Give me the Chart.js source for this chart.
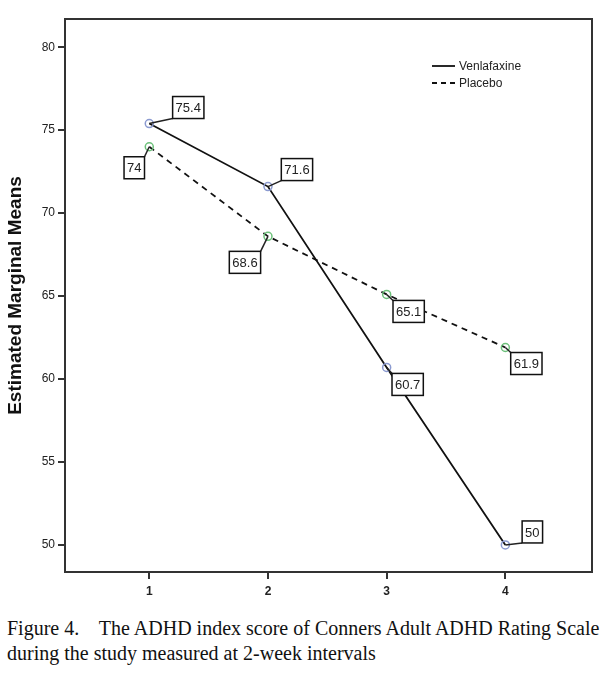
<!DOCTYPE html>
<html>
<head>
<meta charset="utf-8">
<script src="https://cdn.jsdelivr.net/npm/chart.js@4.4.1/dist/chart.umd.min.js"></script>
<style>
  body { margin: 0; background: #fff; }
  #wrap { width: 614px; height: 600px; position: relative; }
  .caption { font-family: "Liberation Serif", "Times New Roman", serif; font-size: 20px; color: #111;
             margin: 0 0 0 7px; line-height: 25px; white-space: pre; }
</style>
</head>
<body>
<div id="wrap"><canvas id="adhdChart"></canvas></div>
<p class="caption" style="margin-top:16px">Figure 4.    The ADHD index score of Conners Adult ADHD Rating Scale
during the study measured at 2-week intervals</p>
<script>
const weeks = [1, 2, 3, 4];
const venlafaxine = [75.4, 71.6, 60.7, 50];
const placebo = [74, 68.6, 65.1, 61.9];
const yTicks = [50, 55, 60, 65, 70, 75, 80];

// label box offsets from the point (px)
const venOffsets = [[39, -16], [29, -17], [21, 17], [27, -13]];
const plaOffsets = [[-15, 21], [-23, 26], [22, 17], [21, 16]];

const toXY = (vals) => vals.map((v, i) => ({ x: weeks[i], y: v }));

// boxed value labels with leader lines + frame + legend
const annotate = {
    id: 'annotate',
    afterDatasetsDraw(chart) {
        const ctx = chart.ctx;
        const a = chart.chartArea;
        ctx.save();
        // frame
        ctx.strokeStyle = '#333';
        ctx.lineWidth = 2;
        ctx.strokeRect(a.left, a.top, a.right - a.left, a.bottom - a.top);

        ctx.font = '13px "Liberation Sans", Arial, sans-serif';
        ctx.textAlign = 'center';
        ctx.textBaseline = 'middle';
        chart.data.datasets.forEach((ds, di) => {
            const meta = chart.getDatasetMeta(di);
            const offs = di === 0 ? venOffsets : plaOffsets;
            meta.data.forEach((pt, i) => {
                const txt = String(ds.data[i].y);
                const w = ctx.measureText(txt).width + 6;
                const h = 22;
                const cx = pt.x + offs[i][0];
                const cy = pt.y + offs[i][1];
                // leader line to the nearest corner of the box
                const ex = cx + (offs[i][0] > 0 ? -w / 2 : w / 2);
                const ey = cy + (offs[i][1] > 0 ? -h / 2 : h / 2);
                ctx.strokeStyle = '#222';
                ctx.lineWidth = 1.5;
                ctx.beginPath();
                ctx.moveTo(pt.x, pt.y);
                ctx.lineTo(Math.abs(offs[i][0]) > w / 2 ? ex : cx, ey);
                ctx.stroke();
                ctx.fillStyle = '#fff';
                ctx.fillRect(cx - w / 2, cy - h / 2, w, h);
                ctx.strokeStyle = '#111';
                ctx.lineWidth = 1.5;
                ctx.strokeRect(cx - w / 2, cy - h / 2, w, h);
                ctx.fillStyle = '#222';
                ctx.fillText(txt, cx, cy + 1);
            });
        });

        // legend
        ctx.font = '12px "Liberation Sans", Arial, sans-serif';
        ctx.textAlign = 'left';
        ctx.strokeStyle = '#111';
        ctx.lineWidth = 1.8;
        ctx.beginPath();
        ctx.moveTo(432, 66); ctx.lineTo(455, 66);
        ctx.stroke();
        ctx.setLineDash([5, 4]);
        ctx.beginPath();
        ctx.moveTo(432, 83); ctx.lineTo(455, 83);
        ctx.stroke();
        ctx.setLineDash([]);
        ctx.fillStyle = '#222';
        ctx.fillText('Venlafaxine', 459, 67);
        ctx.fillText('Placebo', 459, 84);
        ctx.restore();
    }
};

new Chart(document.getElementById('adhdChart'), {
    type: 'line',
    data: {
        datasets: [
            {
                label: 'Venlafaxine',
                data: toXY(venlafaxine),
                borderColor: '#111',
                borderWidth: 1.8,
                pointRadius: 4,
                pointBorderColor: '#8b9ad0',
                pointBackgroundColor: 'rgba(255,255,255,0)',
                pointBorderWidth: 1.5,
                tension: 0
            },
            {
                label: 'Placebo',
                data: toXY(placebo),
                borderColor: '#111',
                borderWidth: 1.8,
                borderDash: [6, 5],
                pointRadius: 4,
                pointBorderColor: '#6cc07a',
                pointBackgroundColor: 'rgba(255,255,255,0)',
                pointBorderWidth: 1.5,
                tension: 0
            }
        ]
    },
    options: {
        responsive: true,
        maintainAspectRatio: false,
        animation: false,
        layout: { padding: { top: 19, right: 22, left: 0, bottom: 0 } },
        scales: {
            x: {
                type: 'linear',
                min: 0.29,
                max: 4.73,
                afterBuildTicks: (s) => { s.ticks = weeks.map(v => ({ value: v })); },
                afterFit: (s) => { s.height = 28; },
                grid: { display: true, drawOnChartArea: false, drawTicks: true, tickLength: 7, color: '#333', lineWidth: 2 },
                border: { display: false },
                ticks: { color: '#222', font: { family: '"Liberation Sans", Arial, sans-serif', size: 12, weight: 'bold' }, padding: 5 }
            },
            y: {
                min: 48.37,
                max: 81.7,
                afterBuildTicks: (s) => { s.ticks = yTicks.map(v => ({ value: v })); },
                afterFit: (s) => { s.width = 65; },
                grid: { display: true, drawOnChartArea: false, drawTicks: true, tickLength: 7, color: '#333', lineWidth: 2 },
                border: { display: false },
                ticks: { color: '#222', font: { family: '"Liberation Sans", Arial, sans-serif', size: 12 }, padding: 3 },
                title: {
                    display: true,
                    text: 'Estimated Marginal Means',
                    color: '#111',
                    font: { family: '"Liberation Sans", Arial, sans-serif', size: 19, weight: 'bold' },
                    padding: { top: 4, bottom: 2 }
                }
            }
        },
        plugins: {
            legend: { display: false },
            tooltip: { enabled: false }
        }
    },
    plugins: [annotate]
});
</script>
</body>
</html>
